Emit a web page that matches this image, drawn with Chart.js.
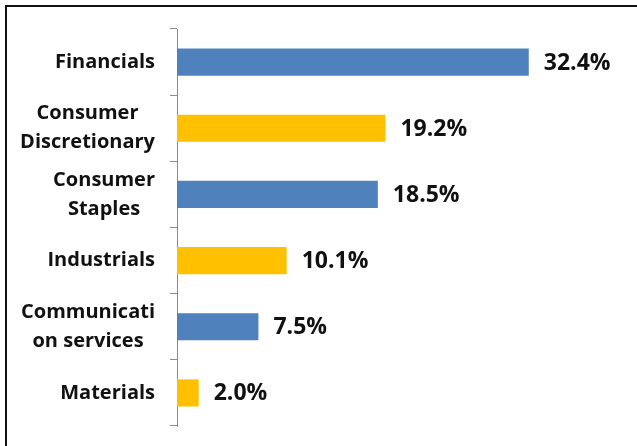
<!DOCTYPE html>
<html>
<head>
<meta charset="utf-8">
<script src="https://cdn.jsdelivr.net/npm/chart.js@4.4.0/dist/chart.umd.min.js"></script>
<style>
    body{ margin:0; background:#fff; overflow:hidden; }
    #marco{ position:absolute; left:5px; top:5px; width:700px; height:500px;
            border-left:2px solid #111; border-top:2px solid #111; }
    #wrap{ position:absolute; left:0; top:0; width:637px; height:446px; }
</style>
</head>
<body>
<div id="marco"></div>
<div id="wrap"><canvas id="grafico"></canvas></div>
<script>
// Datos del grafico
var sectores = [["Financials"], ["Consumer", "Discretionary"], ["Consumer", "Staples"],
                ["Industrials"], ["Communicati", "on services"], ["Materials"]];
var pesos = [32.4, 19.2, 18.5, 10.1, 7.5, 2.0];
var colores = ["#4F81BD", "#FFC000", "#4F81BD", "#FFC000", "#4F81BD", "#FFC000"];

var fuente = "'Open Sans', 'Noto Sans', sans-serif";

// Dibuja las etiquetas de categoria (centradas por linea, alineadas a la derecha como bloque)
var etiquetasEje = {
    id: "etiquetasEje",
    afterDraw(chart){
        var ctx = chart.ctx;
        var ejeY = chart.scales.y;
        ctx.save();
        ctx.font = "bold 20px " + fuente;
        ctx.fillStyle = "#111";
        ctx.textAlign = "center";
        ctx.textBaseline = "middle";
        var derecha = ejeY.right - 22;
        var alto = 29;
        for(var i=0;i<sectores.length;i++){
            var lineas = sectores[i];
            var ancho = 0;
            lineas.forEach(function(l){ ancho = Math.max(ancho, ctx.measureText(l).width); });
            var cx = derecha - ancho/2;
            var cy = ejeY.getPixelForValue(i);
            var y0 = cy - (lineas.length-1)*alto/2;
            for(var j=0;j<lineas.length;j++){
                ctx.fillText(lineas[j], cx, y0 + j*alto);
            }
        }
        ctx.restore();
    }
};

// Etiquetas de valor al final de cada barra
var etiquetasValor = {
    id: "etiquetasValor",
    afterDatasetsDraw(chart){
        var ctx = chart.ctx;
        var barras = chart.getDatasetMeta(0).data;
        ctx.save();
        ctx.font = "bold 23px " + fuente;
        ctx.fillStyle = "#111";
        ctx.textAlign = "left";
        ctx.textBaseline = "middle";
        for(var i=0;i<barras.length;i++){
            ctx.fillText(pesos[i].toFixed(1) + "%", barras[i].x + 15, barras[i].y + 1);
        }
        ctx.restore();
    }
};

var cxt = document.getElementById("grafico").getContext("2d");
var grafico = new Chart(cxt, {
    type: "bar",
    data: {
        labels: sectores,
        datasets: [{
            data: pesos,
            backgroundColor: colores,
            borderWidth: 0,
            categoryPercentage: 1,
            barPercentage: 0.41
        }]
    },
    options: {
        indexAxis: "y",
        responsive: true,
        maintainAspectRatio: false,
        animation: false,
        layout: { padding: { top: 29, bottom: 20, right: 80, left: 0 } },
        plugins: { legend: { display: false }, tooltip: { enabled: false } },
        scales: {
            x: { display: false, min: 0, max: 35 },
            y: {
                afterFit: function(scale){ scale.width = 177; },
                ticks: { display: false },
                grid: { offset: true, drawOnChartArea: false, drawTicks: true, tickLength: 7, color: "#8c8c8c" },
                border: { display: true, color: "#8c8c8c", width: 1 }
            }
        }
    },
    plugins: [etiquetasEje, etiquetasValor]
});
</script>
</body>
</html>
